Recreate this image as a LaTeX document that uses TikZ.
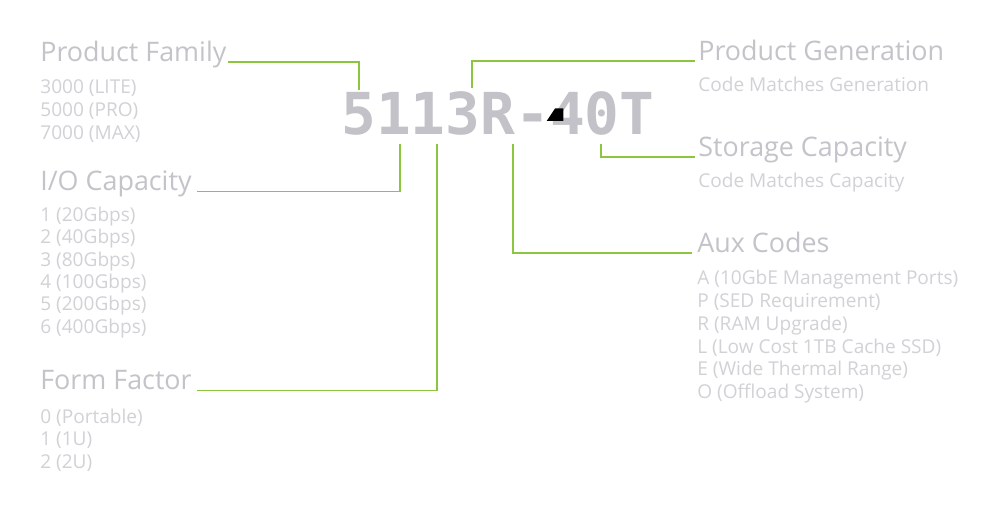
\documentclass[tikz,border=0pt]{standalone}
\usepackage{fontspec}
\setmainfont{Open Sans}
\newfontfamily\codefont{DejaVu Sans Mono}
\definecolor{linegreen}{HTML}{8CC63F}
\definecolor{headgray}{HTML}{C4C3C9}
\definecolor{itemgray}{HTML}{D2D1D6}
\definecolor{codegray}{HTML}{C3C2C8}
\begin{document}
\begin{tikzpicture}[x=0.02cm,y=-0.02cm,
  heading/.style={anchor=base west,inner sep=0pt,text=headgray,font=\fontsize{15.3}{17}\selectfont},
  item/.style={anchor=base west,inner sep=0pt,text=itemgray,font=\fontsize{10.85}{12}\selectfont},
  code/.style={anchor=base west,inner sep=0pt,text=codegray,font=\codefont\bfseries\fontsize{32.9}{36}\selectfont},
  conn/.style={draw=linegreen,line width=1.1pt}]
\useasboundingbox[fill=white] (0,0) rectangle (1000,509);

% main code
\node[code] (code) at (341,135) {5113R-40T};
\fill[black] (555,108.5) -- (563.3,108.5) -- (563.3,121) -- (546.7,121) -- cycle;

% anchor points on code
\coordinate (c5)  at (359,90);
\coordinate (c3)  at (472,88);
\coordinate (c1a) at (400,144);
\coordinate (c1b) at (437,144);
\coordinate (cR)  at (513,144);
\coordinate (c0)  at (601,144);

% left column
\node[heading] (pf) at (40,62) {Product Family};
\node[item] (pf1) at (40,94) {3000 (LITE)};
\node[item] (pf2) at (40,116.7) {5000 (PRO)};
\node[item] (pf3) at (40,139.4) {7000 (MAX)};

\node[heading] (io) at (40,191) {I/O Capacity};
\node[item] (io1) at (40,221.7) {1 (20Gbps)};
\node[item] (io2) at (40,244) {2 (40Gbps)};
\node[item] (io3) at (40,266.3) {3 (80Gbps)};
\node[item] (io4) at (40,288.6) {4 (100Gbps)};
\node[item] (io5) at (40,310.9) {5 (200Gbps)};
\node[item] (io6) at (40,333.2) {6 (400Gbps)};

\node[heading] (ff) at (40,390) {Form Factor};
\node[item] (ff1) at (40,423) {0 (Portable)};
\node[item] (ff2) at (40,445.5) {1 (1U)};
\node[item] (ff3) at (40,468) {2 (2U)};

% right column
\node[heading] (pg) at (698,61) {Product Generation};
\node[item] (pg1) at (698,91.7) {Code Matches Generation};

\node[heading] (sc) at (698,157) {Storage Capacity};
\node[item] (sc1) at (698,188) {Code Matches Capacity};

\node[heading] (ax) at (697,253) {Aux Codes};
\node[item] (ax1) at (697,285) {A (10GbE Management Ports)};
\node[item] (ax2) at (697,307.7) {P (SED Requirement)};
\node[item] (ax3) at (697,330.4) {R (RAM Upgrade)};
\node[item] (ax4) at (697,353.1) {L (Low Cost 1TB Cache SSD)};
\node[item] (ax5) at (697,375.8) {E (Wide Thermal Range)};
\node[item] (ax6) at (697,398.5) {O (Offload System)};

% connector ends beside headings
\coordinate (pfE) at (228,61.7);
\coordinate (ioE) at (197,191.5);
\coordinate (ffE) at (197,390.5);
\coordinate (pgW) at (695,61);
\coordinate (scW) at (695,157.3);
\coordinate (axW) at (692,253.3);

% connectors
\draw[conn] (pfE) -| (c5);
\draw[conn] (c3) |- (pgW);
\draw[conn] (c0) |- (scW);
\draw[conn] (c1a) |- (ioE);
\draw[conn] (c1b) |- (ffE);
\draw[conn] (cR) |- (axW);
\end{tikzpicture}
\end{document}
